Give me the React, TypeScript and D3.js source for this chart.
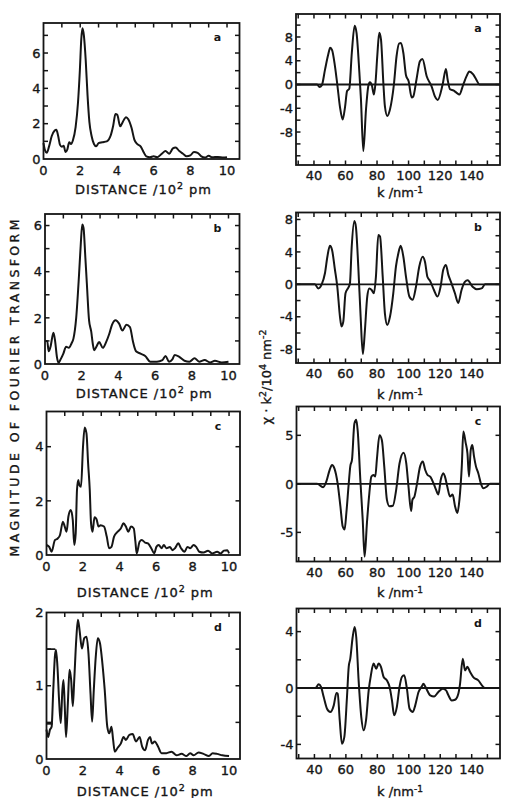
import React from 'react'
import { scaleLinear, line, curveMonotoneX } from 'd3'

const W = 506
const H = 798
const INK = '#151515'

// Fourier transform magnitude vs distance (10^2 pm)
const ftA: [number, number][] = [
  [0, 0.9], [0.08, 0.5], [0.18, 0.35], [0.3, 0.7], [0.45, 1.3], [0.6, 1.6], [0.7, 1.65], [0.8, 1.3],
  [0.9, 0.8], [1.0, 0.7], [1.1, 0.75], [1.2, 0.4], [1.3, 0.55], [1.4, 0.95], [1.5, 0.85], [1.6, 1.05],
  [1.75, 1.8], [1.88, 3.2], [1.98, 5.0], [2.06, 6.8], [2.12, 7.4], [2.2, 7.0], [2.3, 5.6], [2.4, 3.6],
  [2.5, 2.1], [2.62, 1.3], [2.75, 0.85], [2.87, 0.72], [3.0, 0.9], [3.2, 0.95], [3.45, 1.0], [3.65, 1.3],
  [3.8, 1.9], [3.92, 2.55], [4.02, 2.5], [4.18, 1.85], [4.32, 2.1], [4.5, 2.37], [4.62, 2.25], [4.8, 1.75],
  [4.95, 1.1], [5.1, 0.85], [5.3, 0.7], [5.45, 0.4], [5.6, 0.15], [5.8, 0.1], [6.0, 0.15], [6.2, 0.1],
  [6.45, 0.3], [6.65, 0.45], [6.85, 0.3], [7.05, 0.6], [7.2, 0.65], [7.4, 0.45], [7.6, 0.3], [7.8, 0.15],
  [8.0, 0.2], [8.2, 0.4], [8.4, 0.35], [8.6, 0.15], [8.8, 0.08], [9.0, 0.18], [9.2, 0.1], [9.5, 0.12],
  [9.8, 0.08], [10.0, 0.1],
]
const ftB: [number, number][] = [
  [0, 1.0], [0.12, 1.0], [0.2, 0.55], [0.3, 0.75], [0.46, 1.35], [0.55, 1.0], [0.65, 0.3], [0.74, 0.05],
  [0.85, 0.2], [1.0, 0.45], [1.15, 0.75], [1.3, 0.7], [1.45, 0.9], [1.55, 1.1], [1.7, 2.0], [1.85, 3.8],
  [1.95, 5.2], [2.03, 6.05], [2.1, 5.9], [2.2, 4.6], [2.28, 3.5], [2.4, 1.9], [2.52, 1.4], [2.6, 0.9],
  [2.68, 0.6], [2.8, 0.75], [2.95, 0.95], [3.15, 0.7], [3.33, 0.95], [3.5, 1.3], [3.65, 1.7], [3.85, 1.9],
  [4.04, 1.75], [4.22, 1.45], [4.44, 1.7], [4.63, 1.6], [4.8, 0.95], [4.96, 0.55], [5.2, 0.45], [5.46, 0.35],
  [5.74, 0.1], [6.1, 0.1], [6.4, 0.17], [6.57, 0.35], [6.76, 0.1], [6.94, 0.2], [7.07, 0.39], [7.3, 0.32],
  [7.6, 0.14], [7.87, 0.1], [8.15, 0.25], [8.4, 0.1], [8.7, 0.17], [9.0, 0.07], [9.26, 0.14], [9.63, 0.07],
  [10, 0.1],
]
const ftC: [number, number][] = [
  [0, 0.37], [0.15, 0.3], [0.28, 0.12], [0.46, 0.55], [0.6, 0.6], [0.74, 0.74], [0.9, 1.23], [1.0, 1.05],
  [1.1, 0.86], [1.2, 1.42], [1.33, 1.66], [1.44, 1.29], [1.52, 0.37], [1.6, 0.8], [1.67, 2.4], [1.74, 2.77],
  [1.8, 2.58], [1.89, 2.52], [2.0, 4.0], [2.09, 4.71], [2.19, 4.49], [2.28, 3.38], [2.37, 2.4], [2.44, 1.17],
  [2.52, 0.86], [2.63, 1.39], [2.74, 1.32], [2.85, 1.05], [2.96, 1.1], [3.15, 1.05], [3.3, 0.68], [3.43, 0.25],
  [3.56, 0.3], [3.7, 0.68], [3.9, 0.86], [4.07, 0.98], [4.22, 1.17], [4.35, 1.05], [4.48, 0.86], [4.63, 1.05],
  [4.78, 0.98], [4.87, 0.49], [4.94, 0.06], [5.1, 0.49], [5.22, 0.55], [5.4, 0.46], [5.56, 0.43], [5.74, 0.25],
  [5.9, 0.06], [6.02, 0.3], [6.15, 0.37], [6.3, 0.25], [6.43, 0.37], [6.57, 0.25], [6.76, 0.3], [6.9, 0.18],
  [7.04, 0.25], [7.22, 0.43], [7.37, 0.25], [7.56, 0.12], [7.72, 0.3], [7.87, 0.25], [8.06, 0.37], [8.2, 0.3],
  [8.37, 0.12], [8.6, 0.09], [8.85, 0.16], [9.07, 0.06], [9.35, 0.12], [9.54, 0.06], [9.72, 0.16], [9.9, 0.18],
  [10, 0.06],
]
const ftD: [number, number][] = [
  [0, 0.4], [0.09, 0.3], [0.19, 0.4], [0.28, 0.44], [0.37, 0.94], [0.46, 1.4], [0.52, 1.49], [0.6, 1.26],
  [0.69, 0.8], [0.78, 0.49], [0.87, 0.94], [0.93, 1.08], [1.0, 0.72], [1.07, 0.3], [1.17, 0.76], [1.26, 1.22],
  [1.35, 1.08], [1.44, 0.72], [1.52, 1.08], [1.63, 1.63], [1.72, 1.9], [1.81, 1.76], [1.94, 1.51], [2.07, 1.65],
  [2.19, 1.67], [2.3, 1.44], [2.41, 0.9], [2.5, 0.51], [2.59, 0.94], [2.7, 1.4], [2.81, 1.65], [2.93, 1.58],
  [3.06, 1.31], [3.19, 0.94], [3.33, 0.44], [3.44, 0.35], [3.56, 0.44], [3.65, 0.26], [3.74, 0.1], [3.89, 0.15],
  [4.07, 0.21], [4.22, 0.3], [4.35, 0.26], [4.54, 0.33], [4.72, 0.34], [4.9, 0.24], [5.1, 0.3], [5.24, 0.17],
  [5.4, 0.12], [5.56, 0.26], [5.67, 0.3], [5.78, 0.21], [5.93, 0.24], [6.11, 0.17], [6.3, 0.08], [6.57, 0.08],
  [6.85, 0.1], [7.13, 0.05], [7.4, 0.07], [7.67, 0.04], [7.87, 0.08], [8.06, 0.05], [8.33, 0.09], [8.6, 0.07],
  [8.9, 0.04], [9.1, 0.08], [9.35, 0.07], [9.63, 0.05], [10, 0.04],
]
// window steps drawn at the left edge of panel d
const ftDSteps: [number, number][][] = [
  [[0, 1.5], [0.48, 1.5]],
  [[0, 0.48], [0.33, 0.48]],
]

// chi * k^2 (10^4 nm^-2) vs k (nm^-1)
const chiA: [number, number][] = [
  [28.6, 0], [42, 0], [43.5, -0.4], [45, -0.1], [47, 2.5], [49, 5], [50.3, 6.2], [51.5, 5.8], [53.3, 3.1],
  [54.8, 0], [56.5, -3.8], [58.2, -5.9], [59.7, -3.8], [61, -1.1], [62.4, -0.7], [64, 5.3], [65.8, 9.9],
  [67, 8.7], [68.8, 2], [69.8, -2.5], [71.3, -11.2], [73, -4.2], [74.5, -0.2], [75.5, 0.4], [76.8, -0.2],
  [78, -1.7], [79, 0.2], [80.2, 5], [81.4, 8.7], [82.5, 7.6], [84, 0.3], [85, -3.7], [86.5, -5.3], [88.2, -4.2],
  [90.7, 0], [92.4, 4.8], [94, 6.9], [95.2, 7.0], [96.7, 5.3], [98.4, 1.5], [100, 0.6], [102, -2.2], [103, -2.0],
  [105, 0.8], [107.2, 3.9], [108.8, 4.3], [111.5, 1.4], [114.6, -0.3], [116.7, -2.0], [118.5, -2.6], [121.6, 0],
  [123.7, 2.6], [124.8, 0.8], [126.3, -0.8], [128.4, -1.0], [130.5, -1.4], [132.2, -1.7], [134.7, 0],
  [136.8, 1.4], [138.5, 2.2], [141, 1.7], [143, 0.8], [145, 0], [158, 0],
]
const chiB: [number, number][] = [
  [28.6, 0], [40.6, 0], [42.7, -0.5], [44.9, 0], [47, 1.4], [48.5, 3.4], [50.1, 4.75], [51.4, 4.3], [53.3, 1.8],
  [54.8, -0.3], [56.5, -4.0], [57.5, -5.2], [58.6, -4.6], [60, -1.1], [61.8, -0.4], [62.8, 0.1], [63.9, 4.5],
  [65.6, 7.8], [66.6, 7.1], [68.1, 2.2], [69.6, -4], [71, -8.6], [72.3, -5.7], [73.8, -1.5], [75.1, -0.5],
  [76.6, -0.7], [78, -1.1], [79.3, 0.95], [80.8, 6.1], [81.9, 5.9], [83.6, 0.95], [85, -3.6], [86.5, -5.0],
  [88.2, -4.0], [90.3, -1.1], [92, 2.2], [93.5, 3.8], [95, 4.75], [96.7, 3.4], [98.4, 0.9], [100.5, -1.5],
  [102.6, -1.9], [104.7, -0.3], [106.8, 2.2], [108.9, 3.4], [110.4, 2.8], [112, 0.9], [113.6, 0.45],
  [116.1, -0.7], [118.4, -1.5], [120.3, -0.3], [122, 1.8], [123.7, 2.4], [125.2, 1.2], [126.9, 0.3],
  [129.4, -1.1], [131.5, -2.3], [133.6, -0.7], [135.7, 0.3], [137.5, 0.5], [140.6, -0.3], [143.2, -0.6],
  [146.3, -0.5], [148.5, 0], [158, 0],
]
const chiC: [number, number][] = [
  [28.6, 0], [41.7, 0], [45.5, -0.35], [47.6, 0.25], [49.7, 1.45], [51.2, 1.95], [52.7, 1.6], [54.8, 0],
  [56.5, -2.3], [58, -4.4], [59.2, -4.7], [60.3, -3], [61.8, 0], [62.8, 1.8], [63.9, 2.5], [65.4, 6.2],
  [66.6, 6.6], [67.5, 5.5], [69.2, 0.4], [70.7, -3.7], [71.9, -7.5], [73.4, -4.0], [74.9, -1], [76.2, 0.75],
  [77.6, 0.9], [78.7, 0.75], [79.7, 2.5], [81.4, 5.0], [82.9, 4.5], [84.4, 1.8], [86.1, -1.65], [87.7, -2.3],
  [89.9, -2.25], [92, -0.6], [94.1, 2.1], [96.7, 3.2], [98.4, 2.1], [99.8, -0.27], [101.5, -2.8],
  [102.3, -1.65], [103.6, -1.3], [105.1, -0.1], [107.2, 1.8], [108.9, 2.3], [110.4, 1.45], [112, 0.9],
  [113.6, 0.75], [115.7, 0.07], [117.3, -0.6], [118.8, -1.1], [120.3, 0.4], [122, 1.1], [123, 0.75],
  [124.5, -0.3], [126.2, -1.3], [127.9, -1.1], [129.4, -2.3], [130.9, -3.0], [132.2, -1.65], [133.7, 1.8],
  [134.7, 5.4], [136.2, 4.2], [137.3, 3.15], [138.3, 0.75], [139.4, 3.5], [140.4, 4.0], [141.5, 2.8],
  [142.7, 1.8], [144.2, 1.1], [145.9, 0], [147.4, -0.45], [149.5, -0.3], [151.6, 0], [158, 0],
]
const chiD: [number, number][] = [
  [28.6, 0], [40.6, 0], [42.7, 0.26], [44.2, 0.07], [45.9, -0.64], [48, -1.47], [50.1, -1.7], [52.3, -1.23],
  [54, -0.35], [54.8, -0.4], [56.1, -2.3], [57.5, -3.95], [59, -3.48], [60.7, -0.64], [61.8, 1.5], [62.8, 2.08],
  [64.3, 3.6], [65.6, 4.33], [66.6, 3.6], [68.1, 0.54], [69.8, -2.06], [71.3, -3.0], [72.8, -2.3],
  [74.5, -0.17], [75.9, 0.9], [77.6, 1.73], [79.3, 1.37], [80.8, 1.73], [82.3, 1.5], [84, 0.78], [86.1, 0.54],
  [87.8, 0.07], [89.3, -0.88], [90.7, -1.94], [92.4, -1.35], [94.1, 0.07], [95.6, 0.78], [97.1, 0.9],
  [98.8, -0.05], [100.5, -1.47], [102.6, -1.7], [104.1, -1.23], [106.2, -0.28], [108.3, 0.12], [109.3, 0.3],
  [111, -0.02], [113.6, -0.52], [116.1, -0.6], [118.8, -0.28], [121.6, -0.05], [123.7, -0.17], [125.2, -0.52],
  [127.3, -0.88], [129.4, -0.83], [131.5, -0.4], [132.6, 0.3], [134.3, 2.08], [135.8, 1.25], [137.3, 1.5],
  [139, 1.14], [141, 0.78], [144.2, 0.54], [147.4, 0.07], [148.5, 0], [158, 0],
]

const distLabels = [0, 2, 4, 6, 8, 10]
const kLabels = [40, 60, 80, 100, 120, 140]
const panelLetters = ['a', 'b', 'c', 'd']

type P = {
  data: [number, number][]
  extra?: [number, number][][]
  xDomain: [number, number]
  yDomain: [number, number]
  box: [number, number, number, number] // left, top, right, bottom
  xLabels: number[]
  xMinor: number
  yLabels: number[]
  yMinor: number
  letter: string
  kind: 'ft' | 'chi'
  titleY: number
}

const panels: P[] = [
  { data: ftA, xDomain: [0, 10.68], yDomain: [0, 7.7], box: [43.5, 23, 239.5, 159], xLabels: distLabels, xMinor: 1, yLabels: [0, 2, 4, 6], yMinor: 1, letter: panelLetters[0], kind: 'ft', titleY: 194 },
  { data: ftB, xDomain: [0, 10.6], yDomain: [0, 6.5], box: [45, 214, 239.5, 364], xLabels: distLabels, xMinor: 1, yLabels: [0, 2, 4, 6], yMinor: 1, letter: panelLetters[1], kind: 'ft', titleY: 398 },
  { data: ftC, xDomain: [0, 10.6], yDomain: [0, 5.3], box: [46.5, 411.5, 240, 555], xLabels: distLabels, xMinor: 1, yLabels: [0, 2, 4], yMinor: 2, letter: panelLetters[2], kind: 'ft', titleY: 597 },
  { data: ftD, extra: ftDSteps, xDomain: [0, 10.6], yDomain: [0, 2], box: [46.5, 612.5, 240, 759], xLabels: distLabels, xMinor: 1, yLabels: [0, 1, 2], yMinor: 0.5, letter: panelLetters[3], kind: 'ft', titleY: 796 },
  { data: chiA, xDomain: [28.6, 158], yDomain: [-13.55, 11.87], box: [296, 14, 500, 165], xLabels: kLabels, xMinor: 10, yLabels: [-8, -4, 0, 4, 8], yMinor: 2, letter: panelLetters[0], kind: 'chi', titleY: 197 },
  { data: chiB, xDomain: [28.6, 158], yDomain: [-9.7, 8.86], box: [296, 212.5, 500, 363], xLabels: kLabels, xMinor: 10, yLabels: [-8, -4, 0, 4, 8], yMinor: 2, letter: panelLetters[1], kind: 'chi', titleY: 399 },
  { data: chiC, xDomain: [28.6, 158], yDomain: [-8, 7.97], box: [296.5, 406.5, 500, 561.5], xLabels: kLabels, xMinor: 10, yLabels: [-5, 0, 5], yMinor: 5, letter: panelLetters[2], kind: 'chi', titleY: 597 },
  { data: chiD, xDomain: [28.6, 158], yDomain: [-5, 5.64], box: [296.5, 608.5, 500, 758.5], xLabels: kLabels, xMinor: 10, yLabels: [-4, 0, 4], yMinor: 2, letter: panelLetters[3], kind: 'chi', titleY: 796 },
]

const font = '"DejaVu Sans", sans-serif'
// slight outline so the type reads as heavy as the plotter lettering
const txt = { fontFamily: font, fill: INK, stroke: INK, strokeWidth: 0.35 }

function range(a: number, b: number, step: number) {
  const out: number[] = []
  for (let v = Math.ceil(a / step) * step; v <= b + 1e-9; v += step) out.push(+v.toFixed(6))
  return out
}

function Panel({ p }: { p: P }) {
  const [l, t, r, b] = p.box
  const x = scaleLinear().domain(p.xDomain).range([l, r])
  const y = scaleLinear().domain(p.yDomain).range([b, t])
  const path = line<[number, number]>().x(d => x(d[0])).y(d => y(d[1])).curve(curveMonotoneX)
  const seg = line<[number, number]>().x(d => x(d[0])).y(d => y(d[1]))
  const xt = range(p.xDomain[0], p.xDomain[1], p.xMinor).filter(v => x(v) > l + 1 && x(v) < r - 1)
  const yt = range(p.yDomain[0], p.yDomain[1], p.yMinor).filter(v => y(v) < b - 1 && y(v) > t + 1)
  const tl = 4.5
  const cx = (l + r) / 2
  const labelGap = p.kind === 'chi' ? 15 : 16
  return (
    <g>
      <rect x={l} y={t} width={r - l} height={b - t} fill="none" stroke={INK} strokeWidth={1.8} />
      {xt.map(v => (
        <line key={'xt' + v} x1={x(v)} x2={x(v)} y1={t} y2={t + tl} stroke={INK} strokeWidth={1.5} />
      ))}
      {p.kind === 'chi' && xt.map(v => (
        <line key={'xb' + v} x1={x(v)} x2={x(v)} y1={b} y2={b - tl} stroke={INK} strokeWidth={1.5} />
      ))}
      {yt.map(v => (
        <g key={'yt' + v}>
          <line x1={l} x2={l + tl} y1={y(v)} y2={y(v)} stroke={INK} strokeWidth={1.5} />
          <line x1={r} x2={r - tl} y1={y(v)} y2={y(v)} stroke={INK} strokeWidth={1.5} />
        </g>
      ))}
      {p.kind === 'chi' && (
        <line x1={l} x2={r} y1={y(0)} y2={y(0)} stroke={INK} strokeWidth={1.8} />
      )}
      <path d={path(p.data) || ''} fill="none" stroke={INK} strokeWidth={2} strokeLinejoin="round" />
      {p.extra && p.extra.map((s, i) => (
        <path key={'ex' + i} d={seg(s) || ''} fill="none" stroke={INK} strokeWidth={1.7} />
      ))}
      {p.xLabels.map(v => (
        <text key={'xl' + v} x={x(v)} y={b + labelGap} textAnchor="middle" fontSize={13} {...txt}>{v}</text>
      ))}
      {p.yLabels.map(v => (
        <text key={'yl' + v} x={l - 3} y={y(v)} dy="0.36em" textAnchor="end" fontSize={13} {...txt}>{v}</text>
      ))}
      <text x={r - 22} y={t + 18} textAnchor="middle" fontSize={11} fontWeight="bold" fontFamily={font} fill={INK}>{p.letter}</text>
      {p.kind === 'ft' ? (
        <text x={cx + 2} y={p.titleY} textAnchor="middle" fontSize={13} {...txt} letterSpacing={1}>
          DISTANCE /10<tspan dy={-5} fontSize={9.5}>2</tspan><tspan dy={5}> pm</tspan>
        </text>
      ) : (
        <text x={400} y={p.titleY} textAnchor="middle" fontSize={13} {...txt}>
          k /nm<tspan dy={-4.5} fontSize={9}>-1</tspan>
        </text>
      )}
    </g>
  )
}

export default function App() {
  return (
    <svg width={W} height={H} viewBox={`0 0 ${W} ${H}`} style={{ position: 'absolute', left: 0, top: 0, background: '#fff' }}>
      <rect width={W} height={H} fill="#fff" />
      {panels.map((p, i) => <Panel key={i} p={p} />)}
      <text transform="translate(14,388) rotate(-90)" textAnchor="middle" dy="0.36em" fontSize={12.5} {...txt} textLength={337} lengthAdjust="spacing">
        MAGNITUDE OF FOURIER TRANSFORM
      </text>
      <text transform="translate(266,377) rotate(-90)" textAnchor="middle" dy="0.36em" fontSize={13} {...txt}>
        χ · k<tspan dy={-5} fontSize={9.5}>2</tspan><tspan dy={5}>/10</tspan><tspan dy={-5} fontSize={9.5}>4</tspan><tspan dy={5}> nm</tspan><tspan dy={-5} fontSize={9.5}>-2</tspan>
      </text>
    </svg>
  )
}
